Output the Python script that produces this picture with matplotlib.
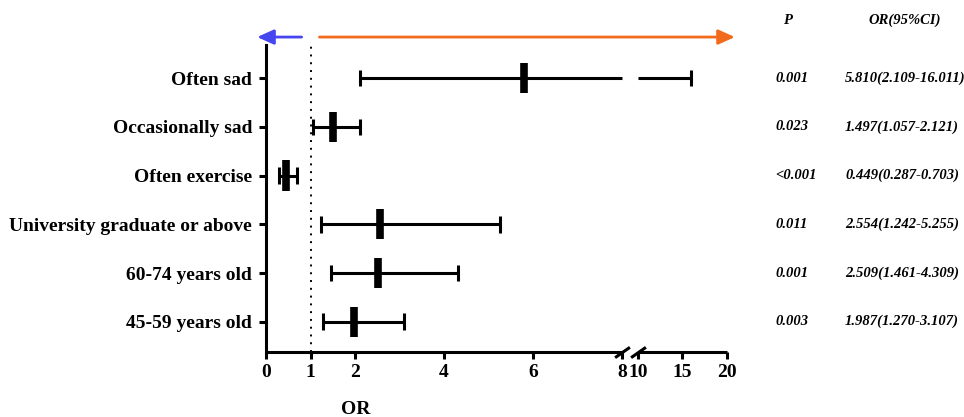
import numpy as np
import matplotlib
matplotlib.use("Agg")
import matplotlib.pyplot as plt
from matplotlib.transforms import blended_transform_factory

plt.rcParams["font.family"] = ["Liberation Serif", "DejaVu Serif"]
plt.rcParams["font.weight"] = "bold"

# data (bottom row first)
labels = ["45-59 years old", "60-74 years old", "University graduate or above",
          "Often exercise", "Occasionally sad", "Often sad"]
odds = [1.987, 2.509, 2.554, 0.449, 1.497, 5.810]
lower = [1.270, 1.461, 1.242, 0.287, 1.057, 2.109]
upper = [3.107, 4.309, 5.255, 0.703, 2.121, 16.011]
p_text = ["0.003", "0.001", "0.011", "<0.001", "0.023", "0.001"]
or_text = ["1.987(1.270-3.107)", "2.509(1.461-4.309)", "2.554(1.242-5.255)",
           "0.449(0.287-0.703)", "1.497(1.057-2.121)", "5.810(2.109-16.011)"]
xticks = [0, 1, 2, 4, 6, 8, 10, 15, 20]

# broken axis: 0-8 linear, 10-20 squeezed
B1, B2 = 8, 10
GAP, K = 0.36, 0.2


def fwd(x):
    x = np.asarray(x, dtype=float)
    return np.where(x <= B1, x,
                    np.where(x >= B2, B1 + GAP + (x - B2) * K,
                             B1 + (x - B1) * GAP / (B2 - B1)))


def inv(t):
    t = np.asarray(t, dtype=float)
    return np.where(t <= B1, t,
                    np.where(t >= B1 + GAP, B2 + (t - B1 - GAP) / K,
                             B1 + (t - B1) * (B2 - B1) / GAP))


fig = plt.figure(figsize=(9.64, 4.17), dpi=100)
ax = fig.add_axes([0.276, 0.156, 0.478, 0.736])
ax.set_xscale("function", functions=(fwd, inv))
ax.set_xlim(0, 20)
ax.set_ylim(-0.62, 5.68)

y = np.arange(len(labels))
lw = 2.2
for yi, o, lo, hi in zip(y, odds, lower, upper):
    if hi > B2:
        ax.hlines(yi, lo, B1, color="black", lw=lw)
        ax.hlines(yi, B2, hi, color="black", lw=lw)
    else:
        ax.hlines(yi, lo, hi, color="black", lw=lw)
    ax.vlines([lo, hi], yi - 0.17, yi + 0.17, color="black", lw=lw)
    ax.vlines(o, yi - 0.31, yi + 0.31, color="black", lw=5.5)

ax.axvline(1, color="black", ls=(0, (1, 3)), lw=1.4, zorder=0)

ax.set_yticks(y)
ax.set_yticklabels(labels, fontsize=14, fontweight="bold")
ax.set_xticks(xticks)
ax.set_xticklabels([str(v) for v in xticks], fontsize=14, fontweight="bold")
ax.tick_params(axis="both", length=5, width=lw, pad=5)
ax.tick_params(axis="x", pad=4)
ax.minorticks_off()

for s in ["top", "right", "bottom"]:
    ax.spines[s].set_visible(False)
ax.spines["left"].set_linewidth(lw)

# bottom axis line with break marks
xt = ax.get_xaxis_transform()
ax.plot([0, B1], [0, 0], color="black", lw=lw, transform=xt, clip_on=False,
        solid_capstyle="butt")
ax.plot([B2, 20], [0, 0], color="black", lw=lw, transform=xt, clip_on=False,
        solid_capstyle="butt")
for bx in [B1, B2]:
    ax.plot([bx], [0], marker=(2, 0, -55), markersize=13, mew=lw, color="black",
            transform=xt, clip_on=False)

ax.set_xlabel("OR", fontsize=14, fontweight="bold")
ax.xaxis.set_label_coords(0.195, -0.16)

# arrows above the plot
head = "-|>,head_length=1.0,head_width=0.45"
ax.annotate("", xy=(-0.2, 1.026), xytext=(0.8, 1.026), xycoords=xt,
            arrowprops=dict(arrowstyle=head, color="#4646f0", lw=2,
                            shrinkA=0, shrinkB=0),
            annotation_clip=False)
ax.annotate("", xy=(20.9, 1.026), xytext=(1.2, 1.026), xycoords=xt,
            arrowprops=dict(arrowstyle=head, color="#f26b1d", lw=2,
                            shrinkA=0, shrinkB=0),
            annotation_clip=False)

# right-hand table
tr = blended_transform_factory(fig.transFigure, ax.transData)
fs = 10.5
fig.text(787 / 964, 1 - 20 / 417, "P", fontsize=fs, fontstyle="italic",
         fontweight="bold", ha="center", va="center")
fig.text(905 / 964, 1 - 20 / 417, "OR(95%CI)", fontsize=fs, fontstyle="italic",
         fontweight="bold", ha="center", va="center")
for yi, pt, ot in zip(y, p_text, or_text):
    ax.text(775 / 964, yi, pt, transform=tr, fontsize=fs, fontstyle="italic",
            fontweight="bold", ha="left", va="center", clip_on=False)
    ax.text(845 / 964, yi, ot, transform=tr, fontsize=fs, fontstyle="italic",
            fontweight="bold", ha="left", va="center", clip_on=False)

fig.savefig("out.png", dpi=100)
